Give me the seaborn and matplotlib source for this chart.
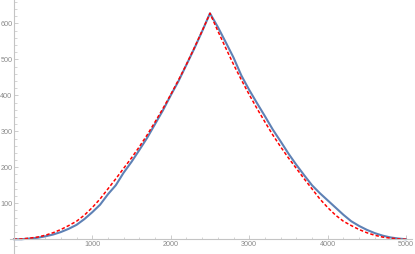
import numpy as np
import pandas as pd
import matplotlib
matplotlib.use("Agg")
import matplotlib.pyplot as plt
from matplotlib.ticker import MultipleLocator
import seaborn as sns

# x positions (steps of 100 from 0 to 5000)
x_vals = list(range(0, 5001, 100))

# measured curve (blue, solid)
measured = [0, 0, 2, 4, 8, 13, 20, 29, 40, 56,
            75, 96, 125, 150, 185, 215, 248, 282, 320, 358,
            400, 440, 485, 530, 578, 628,
            590, 548, 505, 455, 415, 378, 342, 305, 272, 238,
            207, 178, 150, 128, 108, 88, 68, 50, 37, 26,
            17, 10, 5, 2, 0]

# fitted curve (red, dashed)
fitted = [0, 1, 3, 6, 11, 18, 27, 38, 50, 67,
          88, 112, 140, 168, 197, 226, 257, 290, 326, 363,
          402, 443, 486, 532, 579, 628,
          579, 532, 486, 443, 402, 363, 326, 290, 257, 226,
          197, 168, 140, 112, 88, 67, 50, 38, 27, 18,
          11, 6, 3, 1, 0]

df = pd.DataFrame({"x": x_vals, "measured": measured, "fitted": fitted})

sns.set_style("white")
plt.rcParams["font.family"] = ["Liberation Sans", "DejaVu Sans"]
axis_gray = "#c4c4c4"
label_gray = "#8a8a8a"

fig = plt.figure(figsize=(4.15, 2.54), dpi=100)
ax = fig.add_axes([0, 0, 1, 1])

sns.lineplot(data=df, x="x", y="measured", ax=ax, color="#5e81b5", linewidth=1.5)
sns.lineplot(data=df, x="x", y="fitted", ax=ax, color="#ff0000", linewidth=1.1,
             linestyle=(0, (2.2, 1.4)))

ax.set_xlim(-175, 5112)
ax.set_ylim(-41, 665)
ax.set_xlabel("")
ax.set_ylabel("")

for side in ["top", "right"]:
    ax.spines[side].set_visible(False)
ax.spines["left"].set_position(("data", 0))
ax.spines["bottom"].set_position(("data", 0))
ax.spines["left"].set_bounds(-41, 665)
ax.spines["bottom"].set_bounds(-50, 5080)
for side in ["left", "bottom"]:
    ax.spines[side].set_color(axis_gray)
    ax.spines[side].set_linewidth(0.8)

ax.xaxis.set_major_locator(MultipleLocator(1000))
ax.xaxis.set_minor_locator(MultipleLocator(200))
ax.yaxis.set_major_locator(MultipleLocator(100))
ax.yaxis.set_minor_locator(MultipleLocator(20))

ax.tick_params(axis="both", which="major", direction="in", length=3, width=0.6,
               color=axis_gray, labelcolor=label_gray, labelsize=5.2, pad=1)
ax.tick_params(axis="both", which="minor", direction="in", length=1.8, width=0.5,
               color=axis_gray)
ax.tick_params(axis="x", bottom=True, which="both")
ax.tick_params(axis="y", left=True, which="both")

ax.set_xticks([1000, 2000, 3000, 4000, 5000])
ax.set_xticklabels(["1000", "2000", "3000", "4000", "5000"])
ax.set_yticks([100, 200, 300, 400, 500, 600])
ax.set_yticklabels(["100", "200", "300", "400", "500", "600"])

fig.savefig("out.png", dpi=100)
